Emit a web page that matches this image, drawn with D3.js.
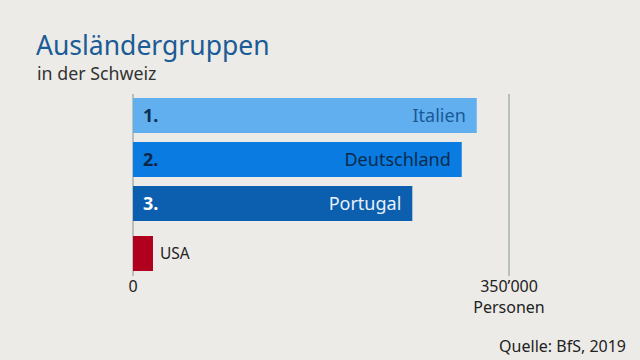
<!DOCTYPE html>
<html><head><meta charset="utf-8">
<script src="https://cdn.jsdelivr.net/npm/d3@7"></script>
<style>
html,body{margin:0;padding:0;background:#ecebe7;}
svg{display:block;font-family:"Noto Sans",sans-serif;}
</style></head><body>
<script>
const categories = ["Italien", "Deutschland", "Portugal", "USA"];
const ranks = ["1.", "2.", "3.", ""];
const values = [320000, 306000, 260000, 18600];
const tickValues = [0, 350000];
const tickLabels = ["0", "350’000"];
const unitLabel = "Personen";
const title = "Ausländergruppen";
const subtitle = "in der Schweiz";
const source = "Quelle: BfS, 2019";

const W = 640, H = 360;
const barColors = ["#62aff0", "#0a7be0", "#0b5fae", "#b0001e"];
const nameColors = ["#185a96", "#0b2b4e", "#e9f1fb", "#222"];
const rankColors = ["#0b2f55", "#0b2447", "#ffffff", "#222"];

const svg = d3.select("body").append("svg").attr("width", W).attr("height", H);
svg.append("rect").attr("width", W).attr("height", H).attr("fill", "#ecebe7");

svg.append("text").attr("x", 36).attr("y", 55).attr("font-size", 26.5)
  .attr("fill", "#1b5b96").text(title);
svg.append("text").attr("x", 37).attr("y", 80).attr("font-size", 17.8)
  .attr("fill", "#333").text(subtitle);

const x = d3.scaleLinear().domain([0, 350000]).range([133, 509]);
const y = d3.scaleBand().domain(categories).range([98, 265]).paddingInner(9 / 44).paddingOuter(0);
const yPos = (c, i) => y(c) + (i === 3 ? 6 : 0);

svg.append("line").attr("x1", x(350000)).attr("x2", x(350000))
  .attr("y1", 94).attr("y2", 276).attr("stroke", "#a9b0ae").attr("stroke-width", 1.5);
svg.append("line").attr("x1", x(0)).attr("x2", x(0))
  .attr("y1", 94).attr("y2", 276).attr("stroke", "#a9b0ae").attr("stroke-width", 1.5);

const bh = y.bandwidth();
const g = svg.append("g");
categories.forEach((c, i) => {
  const yy = yPos(c, i);
  g.append("rect").attr("x", x(0)).attr("y", yy)
    .attr("width", x(values[i]) - x(0)).attr("height", bh).attr("fill", barColors[i]);
  if (i < 3) {
    g.append("text").attr("x", x(0) + 10).attr("y", yy + bh / 2 + 6.5)
      .attr("font-size", 18).attr("font-weight", "bold").attr("fill", rankColors[i]).text(ranks[i]);
    g.append("text").attr("x", x(values[i]) - 11).attr("y", yy + bh / 2 + 6.5)
      .attr("text-anchor", "end").attr("font-size", 18).attr("fill", nameColors[i]).text(c);
  } else {
    g.append("text").attr("x", x(values[i]) + 7).attr("y", yy + bh / 2 + 5.5)
      .attr("font-size", 15.5).attr("fill", nameColors[i]).text(c);
  }
});

tickValues.forEach((t, i) => {
  svg.append("text").attr("x", x(t)).attr("y", 292).attr("text-anchor", "middle")
    .attr("font-size", 16).attr("fill", "#222").text(tickLabels[i]);
});
svg.append("text").attr("x", x(350000)).attr("y", 313).attr("text-anchor", "middle")
  .attr("font-size", 16).attr("fill", "#222").text(unitLabel);

svg.append("text").attr("x", 626).attr("y", 352).attr("text-anchor", "end")
  .attr("font-size", 16).attr("fill", "#222").text(source);
</script>
</body></html>
